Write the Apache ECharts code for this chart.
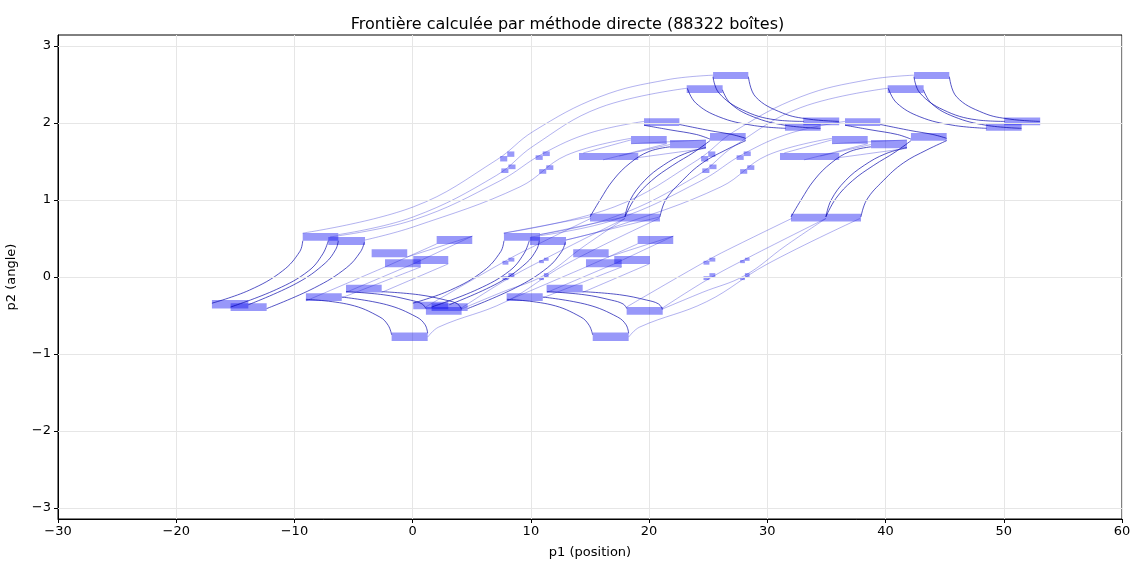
<!DOCTYPE html>
<html>
<head>
<meta charset="utf-8">
<script src="https://cdn.jsdelivr.net/npm/echarts@6/dist/echarts.min.js"></script>
<style>
  html, body { margin: 0; padding: 0; background: #fff; }
  #chart { width: 1135px; height: 561px; }
</style>
</head>
<body>
<div id="chart"></div>
<script>
// ticks
const xTicks = [-30, -20, -10, 0, 10, 20, 30, 40, 50, 60];
const yTicks = [-3, -2, -1, 0, 1, 2, 3];

// boxes : [x0, x1, y0, y1]
const lowerLeftBoxes = [
  [-9.30, -6.29, 0.47, 0.57], [-7.14, -4.03, 0.415, 0.52],
  [-3.47, -0.46, 0.256, 0.36], [-2.34, 0.68, 0.126, 0.23],
  [0.05, 3.01, 0.17, 0.273], [2.03, 5.04, 0.43, 0.532],
  [-16.98, -13.9, -0.41, -0.30], [-15.4, -12.35, -0.44, -0.34],
  [-9.03, -6.0, -0.31, -0.21], [-5.64, -2.62, -0.20, -0.10],
  [-1.78, 1.27, -0.83, -0.72],
  [0.05, 3.01, -0.42, -0.32], [1.6, 4.65, -0.44, -0.34], [1.12, 4.14, -0.49, -0.39]
];
const lowerMidBoxes = [
  [7.72, 10.77, 0.47, 0.57], [9.92, 12.97, 0.415, 0.52],
  [13.58, 16.58, 0.256, 0.36], [14.66, 17.68, 0.126, 0.23],
  [17.05, 20.07, 0.17, 0.273], [19.03, 22.04, 0.43, 0.532],
  [7.95, 11.0, -0.31, -0.21], [11.33, 14.38, -0.20, -0.10],
  [18.1, 21.15, -0.49, -0.39], [15.23, 18.27, -0.83, -0.72]
];
const upperLeftBoxes = [
  [25.41, 28.39, 2.57, 2.66], [23.18, 26.22, 2.39, 2.49],
  [19.57, 22.56, 1.96, 2.06], [18.47, 21.49, 1.73, 1.83],
  [21.77, 24.81, 1.67, 1.78], [25.15, 28.17, 1.77, 1.87],
  [14.07, 19.08, 1.52, 1.61],
  [15.0, 17.95, 0.72, 0.82], [17.95, 20.92, 0.72, 0.82],
  [31.49, 34.51, 1.90, 2.00], [33.04, 36.08, 1.97, 2.07]
];
const upperRightBoxes = [
  [42.41, 45.39, 2.57, 2.66], [40.18, 43.22, 2.39, 2.49],
  [36.57, 39.56, 1.96, 2.06], [35.47, 38.49, 1.73, 1.83],
  [38.77, 41.81, 1.67, 1.78], [42.15, 45.17, 1.77, 1.87],
  [31.07, 36.08, 1.52, 1.61],
  [32.0, 34.95, 0.72, 0.82], [34.95, 37.92, 0.72, 0.82],
  [48.49, 51.51, 1.90, 2.00], [50.04, 53.08, 1.97, 2.07]
];
const stepBoxes = [
  [7.4, 8.0, 1.50, 1.57], [8.0, 8.6, 1.56, 1.63], [7.5, 8.1, 1.35, 1.41], [8.1, 8.7, 1.40, 1.46],
  [10.4, 11.0, 1.52, 1.58], [11.0, 11.6, 1.57, 1.63], [10.7, 11.3, 1.34, 1.40], [11.3, 11.9, 1.39, 1.45],
  [24.4, 25.0, 1.50, 1.57], [25.0, 25.6, 1.56, 1.63], [24.5, 25.1, 1.35, 1.41], [25.1, 25.7, 1.40, 1.46],
  [27.4, 28.0, 1.52, 1.58], [28.0, 28.6, 1.57, 1.63], [27.7, 28.3, 1.34, 1.40], [28.3, 28.9, 1.39, 1.45],
  [7.6, 8.1, 0.16, 0.21], [8.1, 8.6, 0.20, 0.25], [7.6, 8.1, -0.04, 0.01], [8.1, 8.6, 0.0, 0.05],
  [10.7, 11.1, 0.18, 0.22], [11.1, 11.5, 0.21, 0.25], [10.7, 11.1, -0.04, 0.0], [11.1, 11.5, 0.0, 0.05],
  [24.6, 25.1, 0.16, 0.21], [25.1, 25.6, 0.20, 0.25], [24.6, 25.1, -0.04, 0.01], [25.1, 25.6, 0.0, 0.05],
  [27.7, 28.1, 0.18, 0.22], [28.1, 28.5, 0.21, 0.25], [27.7, 28.1, -0.04, 0.0], [28.1, 28.5, 0.0, 0.05]
];

// dense arcs (darker)
const arcCurves = [
  // lower rise arcs
  [[-16.98, -0.34], [-13.8, -0.17], [-11.0, 0.08], [-9.55, 0.33], [-9.30, 0.47]],
  [[-15.4, -0.39], [-11.5, -0.16], [-8.8, 0.08], [-7.6, 0.3], [-7.14, 0.47]],
  [[-13.9, -0.36], [-9.8, -0.08], [-7.4, 0.18], [-6.5, 0.36], [-6.29, 0.47]],
  [[-12.35, -0.41], [-8.3, -0.14], [-5.6, 0.12], [-4.4, 0.33], [-4.09, 0.45]],
  [[0.02, -0.34], [3.2, -0.17], [6.0, 0.08], [7.45, 0.33], [7.72, 0.47]],
  [[1.6, -0.39], [5.5, -0.16], [8.2, 0.08], [9.4, 0.3], [9.86, 0.47]],
  [[3.1, -0.36], [7.2, -0.08], [9.6, 0.18], [10.5, 0.36], [10.71, 0.47]],
  [[4.65, -0.41], [8.7, -0.14], [11.4, 0.12], [12.6, 0.33], [12.91, 0.45]],
  // lower fall arcs
  [[-9.03, -0.29], [-5.3, -0.36], [-2.77, -0.52], [-2.06, -0.63], [-1.78, -0.75]],
  [[-6.0, -0.26], [-2.2, -0.36], [0.34, -0.52], [1.05, -0.62], [1.27, -0.73]],
  [[-5.64, -0.19], [-2.5, -0.23], [-0.2, -0.3], [0.8, -0.35], [1.12, -0.41]],
  [[-2.62, -0.19], [0.5, -0.23], [2.8, -0.3], [3.8, -0.35], [4.14, -0.42]],
  [[7.97, -0.29], [11.7, -0.36], [14.23, -0.52], [14.94, -0.63], [15.22, -0.75]],
  [[11.0, -0.26], [14.8, -0.36], [17.34, -0.52], [18.05, -0.62], [18.27, -0.73]],
  [[11.36, -0.19], [14.5, -0.23], [16.8, -0.3], [17.8, -0.35], [18.12, -0.41]],
  [[14.38, -0.19], [17.5, -0.23], [19.8, -0.3], [20.8, -0.35], [21.14, -0.42]],
  // upper rise arcs
  [[15.0, 0.78], [15.85, 1.0], [16.97, 1.26], [18.4, 1.48], [20.0, 1.63], [21.77, 1.69]],
  [[17.95, 0.78], [18.4, 1.0], [19.6, 1.25], [21.2, 1.45], [23.0, 1.6], [24.81, 1.68]],
  [[17.95, 0.78], [18.8, 1.02], [20.2, 1.25], [22.0, 1.45], [23.8, 1.62], [25.15, 1.77]],
  [[20.92, 0.78], [21.4, 1.0], [22.8, 1.25], [24.5, 1.48], [26.5, 1.65], [28.17, 1.77]],
  [[32.0, 0.78], [32.85, 1.0], [33.97, 1.26], [35.4, 1.48], [37.0, 1.63], [38.77, 1.69]],
  [[34.95, 0.78], [35.4, 1.0], [36.6, 1.25], [38.2, 1.45], [40.0, 1.6], [41.81, 1.68]],
  [[34.95, 0.78], [35.8, 1.02], [37.2, 1.25], [39.0, 1.45], [40.8, 1.62], [42.15, 1.77]],
  [[37.92, 0.78], [38.4, 1.0], [39.8, 1.25], [41.5, 1.48], [43.5, 1.65], [45.17, 1.77]],
  // upper fall arcs
  [[23.23, 2.45], [23.94, 2.26], [25.9, 2.08], [28.7, 1.97], [31.55, 1.93]],
  [[25.4, 2.6], [25.9, 2.39], [27.88, 2.17], [30.7, 2.04], [33.1, 2.02]],
  [[26.2, 2.43], [26.9, 2.25], [28.8, 2.08], [31.5, 1.97], [34.5, 1.93]],
  [[28.4, 2.6], [29.0, 2.34], [31.27, 2.13], [33.5, 2.05], [36.06, 2.02]],
  [[40.23, 2.45], [40.94, 2.26], [42.9, 2.08], [45.7, 1.97], [48.55, 1.93]],
  [[42.4, 2.6], [42.9, 2.39], [44.88, 2.17], [47.7, 2.04], [50.1, 2.02]],
  [[43.2, 2.43], [43.9, 2.25], [45.8, 2.08], [48.5, 1.97], [51.5, 1.93]],
  [[45.4, 2.6], [46.0, 2.34], [48.27, 2.13], [50.5, 2.05], [53.06, 2.02]],
  [[19.57, 1.97], [21.77, 1.91], [24.0, 1.85], [25.15, 1.79]],
  [[22.56, 1.98], [25.15, 1.9], [27.0, 1.85], [28.17, 1.8]],
  [[36.57, 1.97], [38.77, 1.91], [41.0, 1.85], [42.15, 1.79]],
  [[39.56, 1.98], [42.15, 1.9], [44.0, 1.85], [45.17, 1.8]]
];

// long and straight links (lighter)
const linkCurves = [
  [[-9.3, 0.57], [0.05, 0.91], [7.1, 1.52], [10.2, 1.89], [15.84, 2.34], [21.5, 2.56], [25.4, 2.62]],
  [[-6.29, 0.55], [0.05, 0.78], [7.1, 1.32], [10.2, 1.7], [15.84, 2.2], [23.18, 2.45]],
  [[-7.0, 0.52], [0.05, 0.74], [7.4, 1.25], [11.0, 1.6], [15.0, 1.87], [19.57, 2.02]],
  [[-4.03, 0.48], [0.05, 0.65], [9.07, 1.17], [13.0, 1.58], [18.47, 1.8]],
  [[7.7, 0.57], [17.05, 0.91], [24.1, 1.52], [27.2, 1.89], [32.84, 2.34], [38.5, 2.56], [42.4, 2.62]],
  [[10.71, 0.55], [17.05, 0.78], [24.1, 1.32], [27.2, 1.7], [32.84, 2.2], [40.18, 2.45]],
  [[10.0, 0.52], [17.05, 0.74], [24.4, 1.25], [28.0, 1.6], [32.0, 1.87], [36.57, 2.02]],
  [[12.97, 0.48], [17.05, 0.65], [26.07, 1.17], [30.0, 1.58], [35.47, 1.8]],
  [[1.1, -0.39], [2.2, -0.29], [7.87, 0.21], [9.6, 0.35], [15.06, 0.76]],
  [[4.06, -0.41], [7.87, -0.04], [11.5, 0.26], [17.96, 0.76]],
  [[4.06, -0.42], [7.5, -0.2], [11.1, 0.02], [14.5, 0.4], [17.96, 0.76]],
  [[1.27, -0.78], [2.2, -0.65], [7.87, -0.32], [12.9, 0.16], [20.84, 0.76]],
  [[18.1, -0.39], [19.2, -0.29], [24.87, 0.21], [26.6, 0.35], [32.06, 0.76]],
  [[21.06, -0.41], [24.87, -0.04], [28.5, 0.26], [34.96, 0.76]],
  [[21.06, -0.42], [24.5, -0.2], [28.1, 0.02], [31.5, 0.4], [34.96, 0.76]],
  [[18.27, -0.78], [19.2, -0.65], [24.87, -0.32], [29.9, 0.16], [37.84, 0.76]],
  [[-9.03, -0.31], [-2.34, 0.13]], [[-6.0, -0.27], [0.68, 0.13]],
  [[-5.64, -0.2], [0.05, 0.17]], [[-2.62, -0.2], [3.01, 0.17]],
  [[-2.34, 0.13], [2.03, 0.43]], [[0.05, 0.17], [5.04, 0.53]], [[-0.46, 0.26], [5.04, 0.53]],
  [[7.97, -0.31], [14.66, 0.13]], [[11.0, -0.27], [17.68, 0.13]],
  [[11.36, -0.2], [17.05, 0.17]], [[14.38, -0.2], [20.01, 0.17]],
  [[14.66, 0.13], [19.03, 0.43]], [[17.05, 0.17], [22.04, 0.53]], [[16.54, 0.26], [22.04, 0.53]],
  [[7.72, 0.57], [15.0, 0.78]], [[10.77, 0.55], [17.95, 0.78]], [[12.97, 0.48], [20.92, 0.78]],
  [[14.43, 1.61], [18.47, 1.78]], [[16.1, 1.52], [21.49, 1.73]], [[17.48, 1.57], [21.77, 1.72]],
  [[19.08, 1.55], [24.81, 1.67]], [[18.47, 1.73], [24.81, 1.78]],
  [[31.43, 1.61], [35.47, 1.78]], [[33.1, 1.52], [38.49, 1.73]], [[34.48, 1.57], [38.77, 1.72]],
  [[36.08, 1.55], [41.81, 1.67]], [[35.47, 1.73], [41.81, 1.78]]
];

const font = 'DejaVu Sans';
const minus = v => String(v).replace('-', '\u2212');

let chart = echarts.init(document.getElementById('chart'), null, { renderer: 'canvas' });

let allBoxes = lowerLeftBoxes.concat(lowerMidBoxes, upperLeftBoxes, upperRightBoxes, stepBoxes);

let series = [];
// horizontal grid lines at the y ticks
series.push({
  type: 'line', data: [], z: 1, silent: true,
  markLine: {
    silent: true, symbol: 'none', label: { show: false },
    lineStyle: { color: '#e6e6e6', width: 1, type: 'solid' },
    data: yTicks.map(v => ({ yAxis: v }))
  }
});
// boxes
series.push({
  type: 'custom', z: 3, silent: true,
  encode: { x: [0, 1], y: [2, 3] },
  data: allBoxes,
  renderItem: function (params, api) {
    let p0 = api.coord([api.value(0), api.value(3)]);
    let p1 = api.coord([api.value(1), api.value(2)]);
    return {
      type: 'rect',
      shape: { x: p0[0], y: p0[1], width: p1[0] - p0[0], height: p1[1] - p0[1] },
      style: { fill: 'rgba(10,10,240,0.42)' }
    };
  }
});
arcCurves.forEach(c => series.push({
  type: 'line', data: c, smooth: 0.4, showSymbol: false, z: 4, silent: true,
  lineStyle: { color: 'rgba(0,0,170,0.75)', width: 0.9 }
}));
linkCurves.forEach(c => series.push({
  type: 'line', data: c, smooth: 0.4, showSymbol: false, z: 4, silent: true,
  lineStyle: { color: 'rgba(40,40,210,0.45)', width: 0.8 }
}));

let option = {
  animation: false,
  title: {
    text: 'Frontière calculée par méthode directe (88322 boîtes)',
    left: 'center', top: 12,
    textStyle: { fontFamily: font, fontSize: 16, fontWeight: 'normal', color: '#000' }
  },
  grid: {
    left: 58, right: 13, top: 35, bottom: 42,
    outerBoundsMode: 'none', containLabel: false,
    show: true, borderColor: '#000', borderWidth: 1
  },
  xAxis: {
    type: 'value', min: -30, max: 60, interval: 10,
    name: 'p1 (position)', nameLocation: 'middle', nameGap: 27,
    nameTextStyle: { fontFamily: font, fontSize: 13, color: '#000' },
    axisLine: { onZero: false, lineStyle: { color: '#000' } },
    axisTick: { show: true, length: 4, lineStyle: { color: '#000' } },
    axisLabel: { fontFamily: font, fontSize: 13, color: '#000', margin: 6, formatter: minus },
    splitLine: { show: true, lineStyle: { color: '#e6e6e6' } }
  },
  yAxis: {
    type: 'value', min: -Math.PI, max: Math.PI,
    name: 'p2 (angle)', nameLocation: 'middle', nameGap: 40,
    nameTextStyle: { fontFamily: font, fontSize: 13, color: '#000' },
    axisLine: { onZero: false, lineStyle: { color: '#000' } },
    axisTick: { show: true, length: 4, customValues: yTicks, lineStyle: { color: '#000' } },
    axisLabel: { fontFamily: font, fontSize: 13, color: '#000', margin: 7, customValues: yTicks, formatter: minus },
    splitLine: { show: false }
  },
  series: series
};
chart.setOption(option);
</script>
</body>
</html>
